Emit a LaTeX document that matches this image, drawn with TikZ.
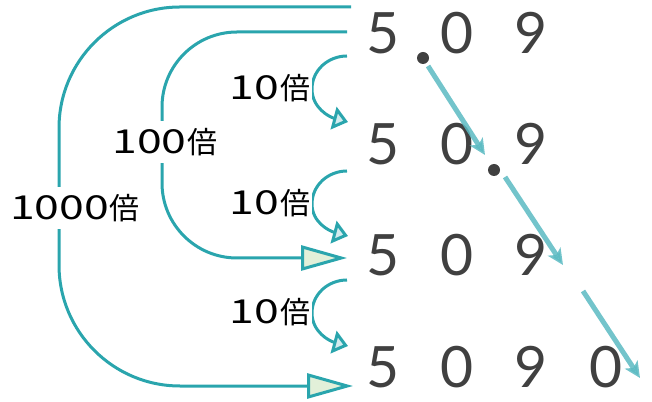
\documentclass[tikz,border=0pt]{standalone}
\usepackage{fontspec}
\setmainfont{Lato}
\newfontfamily\cjkfont{Noto Sans CJK JP}
\newfontfamily\widedigits{Noto Sans CJK JP}[FakeStretch=1.35]
\usetikzlibrary{arrows.meta}

\definecolor{tealline}{HTML}{2AA5AD}
\definecolor{diagline}{HTML}{5ABAC2}
\definecolor{digitgray}{HTML}{404040}
\definecolor{headgreen}{HTML}{E2F0D9}
\definecolor{headblue}{HTML}{D3ECEF}

\newcommand{\bai}[1]{{\widedigits\fontsize{33}{33}\selectfont #1}\kern1pt{\cjkfont 倍}}

\tikzset{
    digit/.style={text=digitgray,font=\fontsize{57}{57}\selectfont,inner sep=0pt},
    dotmark/.style={circle,fill=digitgray,inner sep=0pt,minimum size=12pt},
    timeslabel/.style={font=\fontsize{30}{30}\selectfont,fill=white,inner xsep=2pt,inner ysep=7pt},
    bigloop/.style={tealline,line width=3pt,rounded corners=#1,
        -{Triangle[length=46pt,width=25pt,fill=headgreen]}},
    smallloop/.style={tealline,line width=3pt,
        -{Triangle[length=15pt,width=23pt,fill=headblue]}},
    slide/.style={diagline,line width=5pt,opacity=0.85,
        -{Stealth[length=16pt,width=15pt,inset=4pt]}},
}

\begin{document}
\begin{tikzpicture}[x=1pt,y=1pt]
    \useasboundingbox (0,0) rectangle (652,401);

    % rows of digits
    \node[digit] (a1) at (383,368) {5};
    \node[digit] (a2) at (457,368) {0};
    \node[digit] (a3) at (531,368) {9};
    \node[digit] (b1) at (383,257) {5};
    \node[digit] (b2) at (457,257) {0};
    \node[digit] (b3) at (531,257) {9};
    \node[digit] (c1) at (383,146) {5};
    \node[digit] (c2) at (457,146) {0};
    \node[digit] (c3) at (531,146) {9};
    \node[digit] (d1) at (383,34) {5};
    \node[digit] (d2) at (457,34) {0};
    \node[digit] (d3) at (531,34) {9};
    \node[digit] (d4) at (606,34) {0};

    % decimal points
    \node[dotmark] (p1) at (423,343) {};
    \node[dotmark] (p2) at (494,231) {};

    % moving the point
    \coordinate (s1) at (428,335);
    \coordinate (e1) at (485,246);
    \coordinate (s2) at (505,224);
    \coordinate (e2) at (563,136);
    \coordinate (s3) at (583,110);
    \coordinate (e3) at (640,23);
    \draw[slide] (s1) -- (e1);
    \draw[slide] (s2) -- (e2);
    \draw[slide] (s3) -- (e3);

    % 1000 and 100
    \coordinate (k1) at (351,394);
    \coordinate (k2) at (353,15);
    \coordinate (h1) at (347,369);
    \coordinate (h2) at (347,143);
    \draw[bigloop=121pt] (k1) -- (59,394) -- (59,15) -- (k2);
    \draw[bigloop=75pt] (h1) -- (162,369) -- (162,143) -- (h2);

    % 10
    \coordinate (t1) at (347,345);
    \coordinate (u1) at (348,279);
    \coordinate (t2) at (347,230);
    \coordinate (u2) at (348,165);
    \coordinate (t3) at (347,121);
    \coordinate (u3) at (348,55);
    \draw[smallloop] (t1) to[out=180,in=90] (312,312) to[out=-90,in=165] (u1);
    \draw[smallloop] (t2) to[out=180,in=90] (312,197) to[out=-90,in=165] (u2);
    \draw[smallloop] (t3) to[out=180,in=90] (312,88) to[out=-90,in=165] (u3);

    \node[timeslabel] (l1000) at (75,193) {\bai{1000}};
    \node[timeslabel] (l100) at (165,259) {\bai{100}};
    \node[timeslabel] (l10a) at (270,313) {\bai{10}};
    \node[timeslabel] (l10b) at (270,198) {\bai{10}};
    \node[timeslabel] (l10c) at (270,89) {\bai{10}};
\end{tikzpicture}
\end{document}
